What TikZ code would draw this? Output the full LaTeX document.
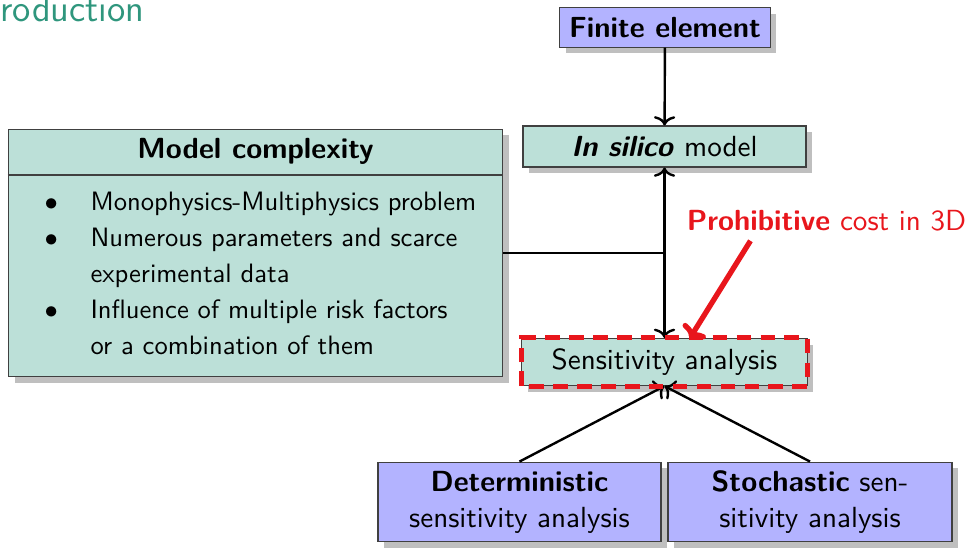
\documentclass[tikz,border=0pt]{standalone}
\usepackage{tikz}
\usetikzlibrary{shadows,arrows.meta}

\definecolor{mint}{RGB}{188,224,216}
\definecolor{lavender}{RGB}{179,179,255}
\definecolor{costred}{RGB}{232,22,28}
\definecolor{titleteal}{RGB}{47,150,125}

\tikzset{
	box/.style={draw=black!75, fill=#1, inner sep=0pt, align=center,
		drop shadow={shadow xshift=2.4pt, shadow yshift=-2.4pt, opacity=1, fill=black!25}},
	link/.style={-{To[length=3.5pt,width=8pt]}, line width=0.9pt},
}

\begin{document}
\begin{tikzpicture}[x=0.376pt, y=-0.376pt, font=\fontsize{10.95}{13.6}\selectfont\sffamily]
	\useasboundingbox (0,0) rectangle (969,548);

	\node[anchor=base west, inner sep=0pt, text=titleteal, font=\fontsize{14}{16}\selectfont\sffamily] (title) at (0,22) {roduction};

	% model chain on the right
	\node[box=lavender, minimum width=79pt, minimum height=14.7pt] (fe) at (665,27.5) {\textbf{Finite element}};
	\node[box=mint, minimum width=106.4pt, minimum height=15.4pt] (silico) at (664.5,146.5) {\textbf{\textit{In silico}} model};
	\node[box=mint, minimum width=107.2pt, minimum height=17.7pt] (sens) at (664.5,362) {Sensitivity analysis};
	\node[box=lavender, minimum width=106.4pt, minimum height=30pt] (det) at (519.5,502) {\textbf{Deterministic}\\sensitivity analysis};
	\node[box=lavender, minimum width=106.8pt, minimum height=30pt] (stoch) at (810,502) {\textbf{Stochastic} sen-\\sitivity analysis};

	% complexity box with its header
	\node[box=mint, minimum width=186pt, minimum height=93.2pt] (cplx) at (255.5,253) {};
	\node (cplxhead) at (255.5,151) {\textbf{Model complexity}};
	\coordinate (sep) at (0,175);
	\draw[black!75] (cplx.west |- sep) -- (cplx.east |- sep);
	\node[anchor=base west, inner sep=0pt, font=\fontsize{10}{13.5}\selectfont\sffamily] (cplxbody) at (44,211) {%
		\begin{tabular}[t]{@{}c@{\hspace{12.3pt}}l@{}}
			$\bullet$ & Monophysics-Multiphysics problem\\
			$\bullet$ & Numerous parameters and scarce\\
			& experimental data\\
			$\bullet$ & Influence of multiple risk factors\\
			& or a combination of them\\
		\end{tabular}};

	\coordinate (jn) at (silico.south |- cplx.east);
	\draw[link] (fe) -- (silico);
	\draw[line width=0.9pt] (cplx.east) -- (jn);
	\draw[link] (jn) -- (silico);
	\draw[link] (jn) -- (sens);
	\draw[link] (det.north) -- (sens.south);
	\draw[link] (stoch.north) -- (sens.south);

	% cost remark
	\draw[costred, line width=1.9pt, dash pattern=on 5.5pt off 3.5pt] (sens.south west) rectangle (sens.north east);
	\node[text=costred] (cost) at (826.5,221) {\textbf{Prohibitive} cost in 3D};
	\draw[costred, line width=2pt, -{To[length=4pt,width=10pt]}] ([xshift=-28.6pt]cost.south) -- ([xshift=9.6pt]sens.north);
\end{tikzpicture}
\end{document}
